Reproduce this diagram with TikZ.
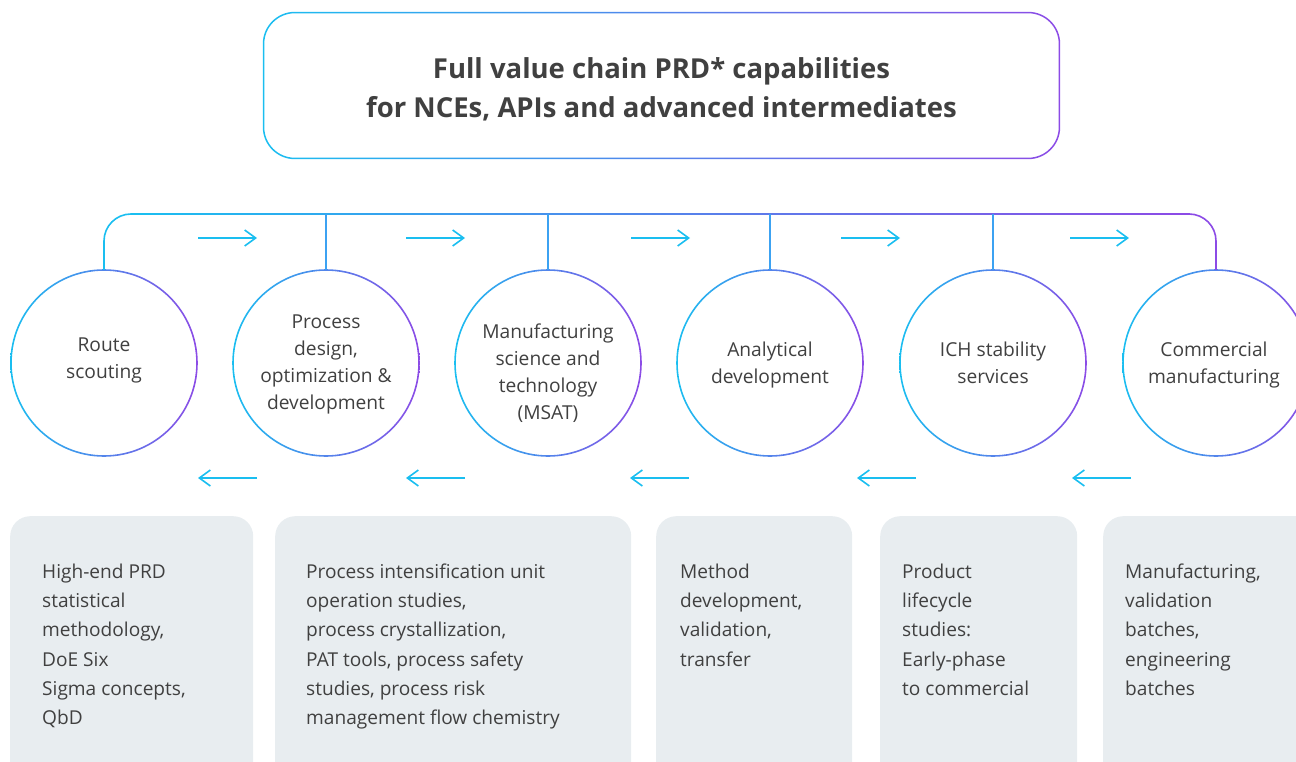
\documentclass[tikz,border=0pt]{standalone}
\usepackage{fontspec}
\setmainfont{Open Sans}
\usetikzlibrary{arrows.meta}
\definecolor{cA}{HTML}{1ABEF0}
\definecolor{cP}{HTML}{8C4BE6}
\definecolor{cB}{HTML}{3CA2F2}
\definecolor{txt}{HTML}{404040}
\definecolor{boxg}{HTML}{E8EDF0}
\begin{document}
\begin{tikzpicture}[x=1pt,y=-1pt,
  lw/.style={line width=1.6pt},
  ring/.style={left color=cA,right color=cP,even odd rule},
  circ/.style={circle,minimum size=186pt,inner sep=0pt,draw=none},
  ctext/.style={anchor=north,align=center,text=txt,inner sep=0pt,font=\fontsize{19.2}{27}\selectfont},
  btext/.style={anchor=north west,align=left,text=txt,inner sep=0pt,font=\fontsize{19.1}{29.3}\selectfont},
  card/.style={fill=boxg,rounded corners=20pt,draw=none,inner sep=0pt,anchor=north west},
  arr/.style={draw=cA,line width=1.6pt,-{Straight Barb[length=11pt,width=16pt,line width=1.6pt]}}
]
\useasboundingbox (0,0) rectangle (1296,762);
\clip (0,0) rectangle (1296,762);

% title
\node[minimum width=797pt,minimum height=147pt,inner sep=0pt] (title) at (661.5,85.5) {};
\node[align=center,text=txt,inner sep=0pt,anchor=north,
      font=\fontsize{27.5}{39}\selectfont\bfseries] (ttl) at (title.center |- 0,51.5)
  {\strut Full value chain PRD* capabilities\\for NCEs, APIs and advanced intermediates};
\shade[ring] (title.south west) [rounded corners=32pt] rectangle (title.north east)
  ([shift={(1.5,-1.5)}]title.south west) [rounded corners=30.5pt] rectangle ([shift={(-1.5,1.5)}]title.north east);

% circles
\foreach \i/\x in {1/104,2/326,3/548,4/770,5/993,6/1216}{
  \node[circ] (c\i) at (\x,363) {};
  \shade[ring] (c\i.center) circle[radius=93.8pt] (c\i.center) circle[radius=92.2pt];
}
\node[ctext] (t1) at (104,332.5) {\strut Route\\scouting};
\node[ctext] (t2) at (326,309.5) {\strut Process\\design,\\optimization \&\\development};
\node[ctext] (t3) at (548,319.5) {\strut Manufacturing\\science and\\technology\\(MSAT)};
\node[ctext] (t4) at (770,337.5) {\strut Analytical\\development};
\node[ctext] (t5) at (993,337.5) {\strut ICH stability\\services};
\node[ctext] (t6) at (1214,337.5) {\strut Commercial\\manufacturing};

% bus
\coordinate (bus) at (0,214);
\shade[left color=cA,right color=cP] (131,213.2) rectangle (1190,214.8);
\draw[cA,lw,rounded corners=27pt] (c1.north) |- (150,214);
\draw[cP,lw,rounded corners=27pt] (c6.north) |- (1170,214);
\foreach \i in {2,...,5}{
  \draw[cB,lw] (c\i.north) -- (c\i.north |- bus);
}

% arrows
\foreach \i/\a/\b in {1/198/257,2/406/465,3/631/690,4/841/900,5/1070/1129}{
  \coordinate (ra\i) at (\a,238);
  \coordinate (rb\i) at (\b,238);
  \draw[arr] (ra\i) -- (rb\i);
}
\foreach \i/\a/\b in {1/198/257,2/406/465,3/630/689,4/857/916,5/1072/1131}{
  \coordinate (la\i) at (\a,478);
  \coordinate (lb\i) at (\b,478);
  \draw[arr] (lb\i) -- (la\i);
}

% cards
\node[card,minimum width=243pt,minimum height=290pt] (b1) at (10,516) {};
\node[card,minimum width=356pt,minimum height=290pt] (b2) at (275,516) {};
\node[card,minimum width=196pt,minimum height=290pt] (b3) at (656,516) {};
\node[card,minimum width=197pt,minimum height=290pt] (b4) at (880,516) {};
\node[card,minimum width=230pt,minimum height=290pt] (b5) at (1103,516) {};

\node[btext] (d1) at (42,557.5) {\strut High-end PRD\\statistical\\methodology,\\DoE Six\\Sigma concepts,\\QbD};
\node[btext] (d2) at (306,557.5) {\strut Process intensification unit\\operation studies,\\process crystallization,\\PAT tools, process safety\\studies, process risk\\management flow chemistry};
\node[btext] (d3) at (680,557.5) {\strut Method\\development,\\validation,\\transfer};
\node[btext] (d4) at (902,557.5) {\strut Product\\lifecycle\\studies:\\Early-phase\\to commercial};
\node[btext] (d5) at (1125,557.5) {\strut Manufacturing,\\validation\\batches,\\engineering\\batches};
\end{tikzpicture}
\end{document}
